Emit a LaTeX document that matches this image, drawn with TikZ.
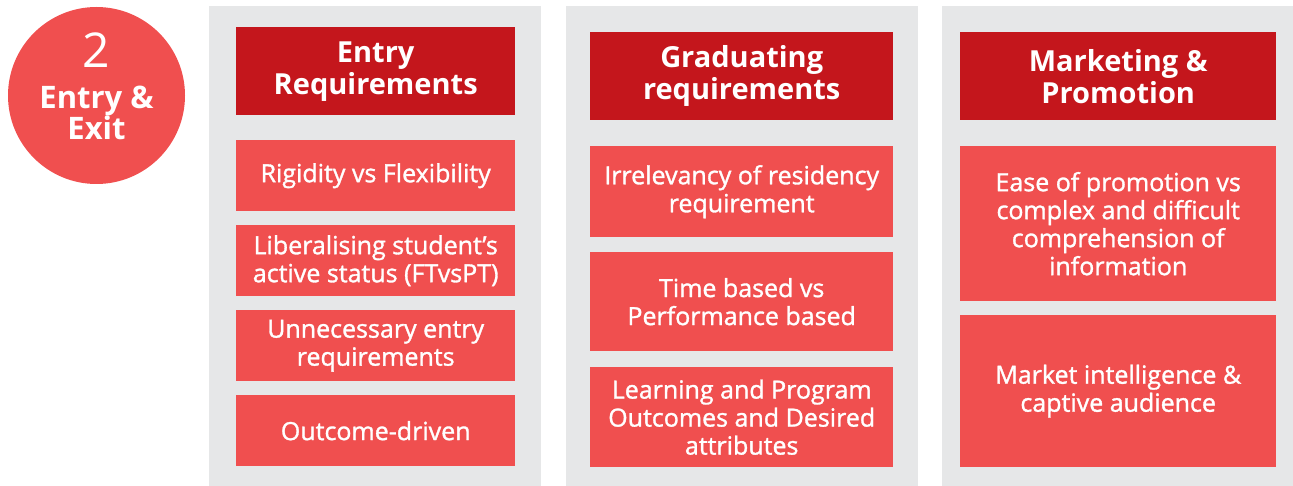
\documentclass[tikz,border=0pt]{standalone}
\usepackage{fontspec}
\setmainfont{Open Sans}
\newfontfamily\semib[FakeBold=1.3]{Open Sans}
\definecolor{panelgray}{HTML}{E6E7E8}
\definecolor{hdrred}{HTML}{C4161C}
\definecolor{itemred}{HTML}{F04F4F}
\begin{document}
\begin{tikzpicture}[x=1pt,y=-1pt,
  panel/.style={fill=panelgray, inner sep=0, anchor=north west, minimum height=480},
  hdr/.style={fill=hdrred, text=white, font=\bfseries\fontsize{29}{32}\selectfont, align=center, inner sep=0, anchor=north west, minimum height=88},
  item/.style={fill=itemred, text=white, font=\semib\fontsize{25}{28}\selectfont, align=center, inner sep=0, anchor=north west}]
\useasboundingbox (0,0) rectangle (1293,486);
% badge
\node[circle, fill=itemred, minimum size=177, inner sep=0] (badge) at (96.5,95.5) {};
\node[text=white, font=\fontsize{48}{48}\selectfont, inner sep=0, anchor=base] (num) at (96.5,68) {2};
\node[text=white, font=\bfseries\fontsize{31}{31}\selectfont, align=center, inner sep=0, anchor=base] (bt) at (96.5,140) {Entry \&\\Exit};
% panels
\node[panel, minimum width=332] (p1) at (209,6) {};
\node[panel, minimum width=352] (p2) at (566,6) {};
\node[panel, minimum width=351] (p3) at (942,6) {};
% column 1
\node[hdr, minimum width=279] (h1) at (236,27) {Entry\\Requirements};
\node[item, minimum width=279, minimum height=71] (a1) at (236,140) {Rigidity vs Flexibility};
\node[item, minimum width=279, minimum height=71] (a2) at (236,225) {Liberalising student’s\\active status (FTvsPT)};
\node[item, minimum width=279, minimum height=71] (a3) at (236,310) {Unnecessary entry\\requirements};
\node[item, minimum width=279, minimum height=71] (a4) at (236,395) {Outcome-driven};
% column 2
\node[hdr, minimum width=303] (h2) at (590,32) {Graduating\\requirements};
\node[item, minimum width=303, minimum height=91] (b1) at (590,146) {Irrelevancy of residency\\requirement};
\node[item, minimum width=303, minimum height=99] (b2) at (590,252) {Time based vs\\Performance based};
\node[item, minimum width=303, minimum height=100] (b3) at (590,367) {Learning and Program\\Outcomes and Desired\\attributes};
% column 3
\node[hdr, minimum width=316] (h3) at (960,32) {Marketing \&\\Promotion};
\node[item, minimum width=316, minimum height=155] (c1) at (960,146) {Ease of promotion vs\\complex and difficult\\comprehension of\\information};
\node[item, minimum width=316, minimum height=152] (c2) at (960,315) {Market intelligence \&\\captive audience};
\end{tikzpicture}
\end{document}
